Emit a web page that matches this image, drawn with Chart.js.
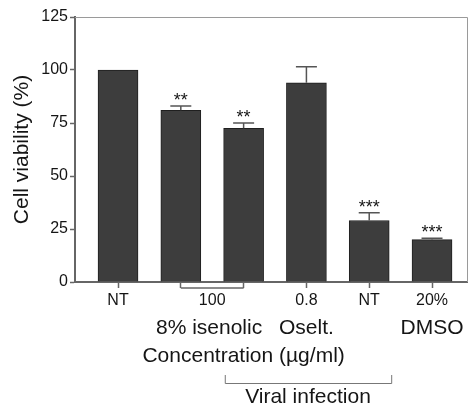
<!DOCTYPE html>
<html>
<head>
<meta charset="utf-8">
<script src="https://cdn.jsdelivr.net/npm/chart.js@4/dist/chart.umd.min.js"></script>
<style>
    html, body { margin: 0; padding: 0; background: #ffffff; }
    #wrap { width: 472px; height: 409px; }
</style>
</head>
<body>
<div id="wrap"><canvas id="viabilityChart"></canvas></div>
<script>
    // values
    const barPositions = [0, 1, 2, 3, 4, 5];
    const viability = [100, 81, 72.5, 94, 29, 20];
    const viabilitySem = [0, 2, 2.5, 7.5, 3.7, 0.6];
    const significance = ['', '**', '**', '', '***', '***'];

    const xTickPositions = [0, 1, 1.5, 2, 3, 4, 5];
    const xTickLabels = ['NT', '', '100', '', '0.8', 'NT', '20%'];
    const yTicks = [0, 25, 50, 75, 100, 125];

    const groupLabels = ['8% isenolic', 'Oselt.', 'DMSO'];
    const groupPositions = [1.45, 3, 5];
    const xTitle = 'Concentration (\u00b5g/ml)';
    const infectionLabel = 'Viral infection';
    const infectionRange = [1.7, 4.35];

    const FONT = '"Liberation Sans", Arial, sans-serif';
    const TEXT = '#151515';
    const AXIS = '#666666';

    const extrasPlugin = {
        id: 'extras',
        afterDatasetsDraw(chart) {
            const { ctx, chartArea } = chart;
            const x = chart.scales.x;
            const y = chart.scales.y;

            ctx.save();

            // frame top / right
            ctx.strokeStyle = '#9a9a9a';
            ctx.lineWidth = 1;
            ctx.beginPath();
            ctx.moveTo(chartArea.left, chartArea.top + 0.5);
            ctx.lineTo(chartArea.right + 0.5, chartArea.top + 0.5);
            ctx.lineTo(chartArea.right + 0.5, chartArea.bottom);
            ctx.stroke();

            // error bars and stars
            ctx.strokeStyle = '#555555';
            ctx.lineWidth = 1.5;
            ctx.fillStyle = TEXT;
            ctx.font = '18px ' + FONT;
            ctx.textAlign = 'center';
            ctx.textBaseline = 'alphabetic';
            barPositions.forEach((pos, i) => {
                const px = x.getPixelForValue(pos);
                const top = y.getPixelForValue(viability[i]);
                const capY = y.getPixelForValue(viability[i] + viabilitySem[i]);
                if (viabilitySem[i] > 0) {
                    ctx.beginPath();
                    ctx.moveTo(px, top);
                    ctx.lineTo(px, capY);
                    ctx.moveTo(px - 10.5, capY);
                    ctx.lineTo(px + 10.5, capY);
                    ctx.stroke();
                }
                if (significance[i]) {
                    ctx.fillText(significance[i], px, capY);
                }
            });

            // bracket under the two isenolic bars
            const b = chartArea.bottom;
            ctx.strokeStyle = AXIS;
            ctx.lineWidth = 1.5;
            ctx.beginPath();
            ctx.moveTo(x.getPixelForValue(1), b + 6);
            ctx.lineTo(x.getPixelForValue(2), b + 6);
            ctx.stroke();

            // second row labels and title
            ctx.font = '21px ' + FONT;
            ctx.textBaseline = 'middle';
            groupLabels.forEach((label, i) => {
                ctx.fillText(label, x.getPixelForValue(groupPositions[i]), 328);
            });
            ctx.fillText(xTitle, x.getPixelForValue(2), 356);

            // viral infection bracket
            const x0 = x.getPixelForValue(infectionRange[0]);
            const x1 = x.getPixelForValue(infectionRange[1]);
            ctx.strokeStyle = '#777777';
            ctx.lineWidth = 1;
            ctx.beginPath();
            ctx.moveTo(x0 + 0.5, 375);
            ctx.lineTo(x0 + 0.5, 383.5);
            ctx.lineTo(x1 + 0.5, 383.5);
            ctx.lineTo(x1 + 0.5, 375);
            ctx.stroke();
            ctx.fillText(infectionLabel, (x0 + x1) / 2, 397);

            ctx.restore();
        },
    };

    const ctx = document.getElementById('viabilityChart').getContext('2d');

    new Chart(ctx, {
        type: 'bar',
        data: {
            datasets: [
                {
                    label: 'Cell viability',
                    data: barPositions.map((pos, i) => ({ x: pos, y: viability[i] })),
                    backgroundColor: '#3d3d3d',
                    borderColor: '#1f1f1f',
                    borderWidth: 1,
                    barThickness: 40,
                },
            ],
        },
        options: {
            responsive: true,
            maintainAspectRatio: false,
            animation: false,
            layout: {
                padding: { top: 17, right: 5, bottom: 0, left: 0 },
            },
            plugins: {
                legend: { display: false },
                tooltip: { enabled: false },
            },
            scales: {
                x: {
                    type: 'linear',
                    offset: false,
                    min: -0.685,
                    max: 5.557,
                    afterBuildTicks(scale) {
                        scale.ticks = xTickPositions.map((v) => ({ value: v }));
                    },
                    afterFit(scale) {
                        scale.height = 127;
                    },
                    border: { display: true, color: AXIS, width: 2 },
                    grid: {
                        offset: false,
                        drawOnChartArea: false,
                        drawTicks: true,
                        tickLength: 6,
                        tickWidth: 1.5,
                        tickColor(context) {
                            return context.tick && context.tick.value === 1.5
                                ? 'rgba(0,0,0,0)'
                                : AXIS;
                        },
                    },
                    ticks: {
                        autoSkip: false,
                        maxRotation: 0,
                        padding: 3,
                        color: TEXT,
                        font: { family: FONT, size: 16 },
                        callback(value) {
                            const idx = xTickPositions.indexOf(value);
                            return idx >= 0 ? xTickLabels[idx] : '';
                        },
                    },
                },
                y: {
                    min: 0,
                    max: 125,
                    afterBuildTicks(scale) {
                        scale.ticks = yTicks.map((v) => ({ value: v }));
                    },
                    afterFit(scale) {
                        scale.width = 75;
                    },
                    border: { display: true, color: AXIS, width: 2 },
                    grid: {
                        drawOnChartArea: false,
                        drawTicks: true,
                        tickLength: 5,
                        tickWidth: 1.5,
                        tickColor: AXIS,
                    },
                    ticks: {
                        padding: 2,
                        color: TEXT,
                        font: { family: FONT, size: 16 },
                    },
                    title: {
                        display: true,
                        text: 'Cell viability (%)',
                        color: TEXT,
                        font: { family: FONT, size: 21 },
                        padding: { top: 10, bottom: 0 },
                    },
                },
            },
        },
        plugins: [extrasPlugin],
    });
</script>
</body>
</html>
